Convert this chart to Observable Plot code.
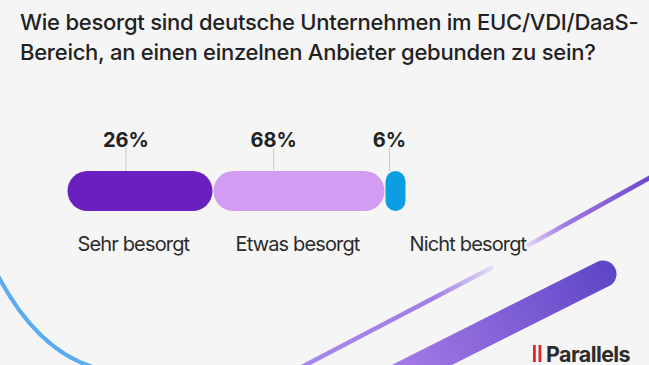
<!DOCTYPE html>
<html><head><meta charset="utf-8">
<script src="https://cdn.jsdelivr.net/npm/d3@7"></script>
<script src="https://cdn.jsdelivr.net/npm/@observablehq/plot@0.6"></script>
<style>
html,body{margin:0;padding:0;background:#f5f5f5;}
#wrap{position:relative;width:649px;height:365px;overflow:hidden;background:#f5f5f5;font-family:Inter,"Noto Sans",sans-serif;}
#deco,#chart{position:absolute;left:0;top:0;}
#title{position:absolute;left:20px;top:7px;font-size:22px;font-weight:500;line-height:30px;color:#222;letter-spacing:-0.25px;white-space:nowrap;}
</style></head>
<body>
<div id="wrap">
<svg id="deco" width="649" height="365" viewBox="0 0 649 365">
  <defs>
    <linearGradient id="thinA" x1="300" y1="368" x2="493" y2="268" gradientUnits="userSpaceOnUse">
      <stop offset="0" stop-color="#a688ea"/><stop offset="0.7" stop-color="#a17ee6"/><stop offset="1" stop-color="#e6dcf7"/>
    </linearGradient>
    <linearGradient id="thinB" x1="527" y1="246" x2="660" y2="172" gradientUnits="userSpaceOnUse">
      <stop offset="0" stop-color="#e2d6f6"/><stop offset="0.3" stop-color="#9d78e2"/><stop offset="1" stop-color="#6a3fcf"/>
    </linearGradient>
    <linearGradient id="thick" x1="400" y1="375" x2="615" y2="268" gradientUnits="userSpaceOnUse">
      <stop offset="0" stop-color="#a57be6"/><stop offset="1" stop-color="#5d45c6"/>
    </linearGradient>
  </defs>
  <path d="M -4 272 Q 38 354 100 369" fill="none" stroke="#5aabef" stroke-width="4"/>
  <line x1="296" y1="370" x2="493" y2="267" stroke="url(#thinA)" stroke-width="4.5"/>
  <line x1="527" y1="246" x2="660" y2="172" stroke="url(#thinB)" stroke-width="4.5"/>
  <line x1="382" y1="385" x2="603" y2="274" stroke="url(#thick)" stroke-width="27" stroke-linecap="round"/>
  <rect x="533" y="345" width="2.8" height="17" fill="#e1232c"/>
  <rect x="538.5" y="345" width="2.8" height="17" fill="#e1232c"/>
  <text x="546" y="361.5" font-family="Inter,sans-serif" font-weight="700" font-size="21.5" letter-spacing="-0.6" fill="#2b2b2b">Parallels</text>
</svg>
<div id="title">Wie besorgt sind deutsche Unternehmen im EUC/VDI/DaaS-<br>Bereich, an einen einzelnen Anbieter gebunden zu sein?</div>
<div id="chart"></div>
</div>
<script>
// data
const categories = ["Sehr besorgt", "Etwas besorgt", "Nicht besorgt"];
const values = [26, 68, 6];
const colors = ["#6a1fbf", "#d49bf2", "#0c9de3"];

// style constants
const labelFrac = [0.40, 0.35, 0.19];
const nameDx = [10, 22, 24];

let acc = 0;
const rows = categories.map((c, i) => {
  const r = {cat: c, value: values[i], start: acc, end: acc + values[i], color: colors[i], i};
  acc += values[i];
  return r;
});
const breaks = [0, ...rows.map(d => d.end)];
const labelX = d => d.start + d.value * labelFrac[d.i];

const marks = [];
rows.forEach(d => {
  marks.push(Plot.barX([d], {
    x1: "start", x2: "end", y: () => "bar",
    fill: d.color, rx: d.value < 10 ? 10.5 : 20,
    insetLeft: 0.5, insetRight: 0.5
  }));
});
marks.push(Plot.ruleX(rows, {x: labelX, stroke: "#c8c8c8", strokeWidth: 1, insetTop: -23, insetBottom: 40}));
marks.push(Plot.text(rows, {
  x: labelX, text: d => d.value + "%", frameAnchor: "top", dy: -39,
  fontSize: 20, fontWeight: 700, fill: "#222"
}));
rows.forEach(d => {
  marks.push(Plot.text([d], {
    x: "start", text: "cat", frameAnchor: "bottom", dy: 39, dx: nameDx[d.i],
    textAnchor: "start", fontSize: 20, fill: "#2c2c2c"
  }));
});

const chart = Plot.plot({
  width: 649, height: 365,
  marginTop: 171, marginBottom: 154, marginLeft: 0, marginRight: 0,
  x: {type: "linear", domain: breaks, range: [67, 213, 385, 406], axis: null},
  y: {domain: ["bar"], padding: 0, axis: null},
  style: {background: "transparent", fontFamily: "Inter, sans-serif", overflow: "visible"},
  marks
});
chart.querySelectorAll("text").forEach(t => { if (t.textContent.indexOf("%") < 0) t.setAttribute("letter-spacing", "-0.85"); });
document.getElementById("chart").appendChild(chart);
</script>
</body></html>
